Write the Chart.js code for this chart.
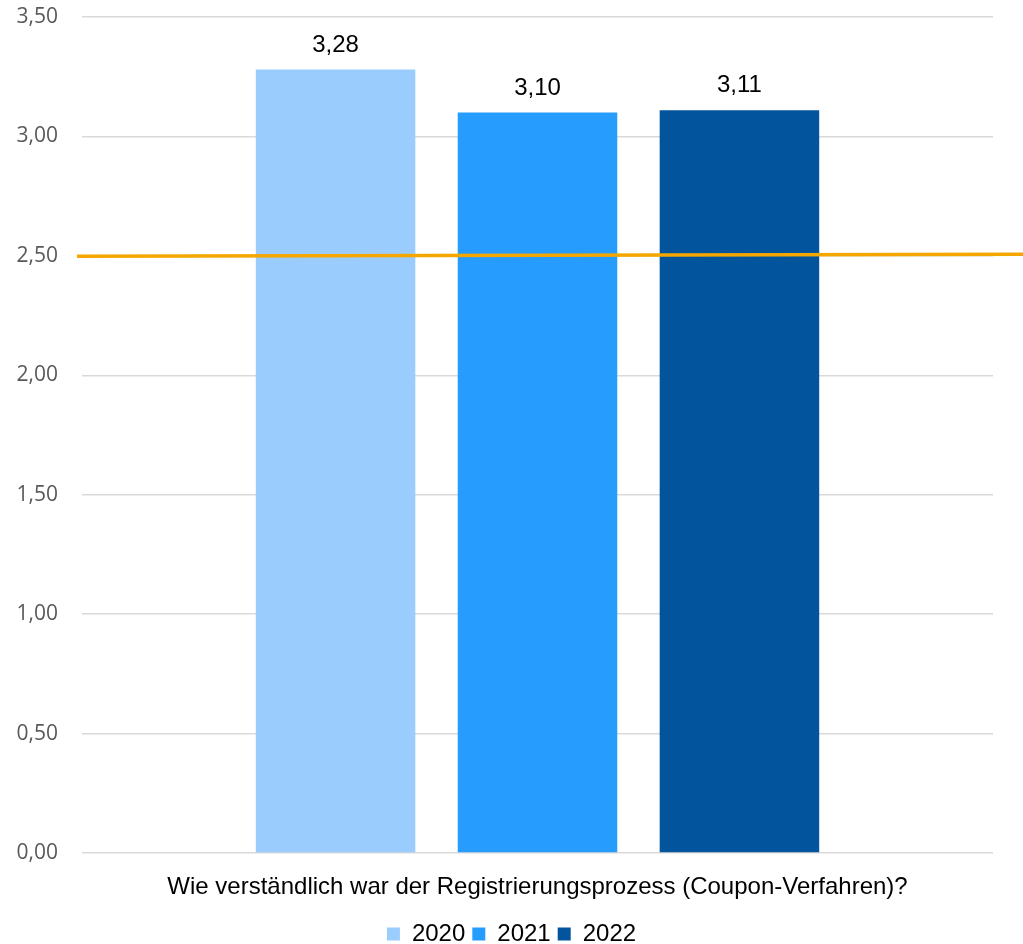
<!DOCTYPE html>
<html>
<head>
<meta charset="utf-8">
<script src="https://cdn.jsdelivr.net/npm/chart.js@4/dist/chart.umd.min.js"></script>
<style>
  html, body { margin: 0; padding: 0; background: #fff; }
  #wrap { width: 1023px; height: 944px; position: relative; }
</style>
</head>
<body>
<div id="wrap"><canvas id="chart"></canvas></div>
<script>
const categories = ['Wie verständlich war der Registrierungsprozess (Coupon-Verfahren)?'];
const years = ['2020', '2021', '2022'];
const scores = [[3.28], [3.10], [3.11]];
const yearColors = ['#9ACDFE', '#279CFF', '#02549C'];
const targetValue = 2.5;

const arial = '"Liberation Sans", Arial, sans-serif';

function fmt(v) {
  return v.toFixed(2).replace('.', ',');
}

// values above each bar
const valueLabels = {
  id: 'valueLabels',
  afterDatasetsDraw(chart) {
    const ctx = chart.ctx;
    ctx.save();
    ctx.font = '24px ' + arial;
    ctx.fillStyle = '#000';
    ctx.textAlign = 'center';
    ctx.textBaseline = 'alphabetic';
    chart.data.datasets.forEach(function(ds, i) {
      chart.getDatasetMeta(i).data.forEach(function(bar, j) {
        ctx.fillText(fmt(ds.data[j]), bar.x, bar.y - 18);
      });
    });
    ctx.restore();
  }
};

// orange reference line across the whole width
const targetLine = {
  id: 'targetLine',
  afterDatasetsDraw(chart) {
    const ctx = chart.ctx;
    const y = chart.scales.y.getPixelForValue(targetValue);
    ctx.save();
    ctx.strokeStyle = '#F5A700';
    ctx.lineWidth = 3.5;
    ctx.beginPath();
    ctx.moveTo(chart.chartArea.left - 5, y + 0.5);
    ctx.lineTo(chart.width, y - 1.5);
    ctx.stroke();
    ctx.restore();
  }
};

// push the legend row a bit lower than the layout puts it
const legendShift = {
  id: 'legendShift',
  afterLayout(chart) {
    const lg = chart.legend;
    lg.top += 12;
    lg.bottom += 12;
  }
};

function noPad(scale) {
  scale.paddingTop = 0;
  scale.paddingBottom = 0;
  scale.paddingLeft = 0;
  scale.paddingRight = 0;
}

new Chart(document.getElementById('chart'), {
  type: 'bar',
  data: {
    labels: categories,
    datasets: years.map(function(y, i) {
      return {
        label: y,
        data: scores[i],
        backgroundColor: yearColors[i],
        categoryPercentage: 0.665,
        barPercentage: 0.79
      };
    })
  },
  options: {
    responsive: true,
    maintainAspectRatio: false,
    animation: false,
    layout: { padding: { top: 17, right: 0, left: 0, bottom: 0 } },
    plugins: {
      legend: {
        position: 'bottom',
        labels: {
          color: '#000',
          font: { family: arial, size: 24 },
          boxWidth: 13,
          boxHeight: 13,
          padding: 7
        }
      },
      tooltip: { enabled: false }
    },
    scales: {
      x: {
        afterFit: function(scale) { scale.height = 50; noPad(scale); },
        grid: { display: false },
        border: { display: false },
        ticks: {
          color: '#000',
          padding: 12,
          maxRotation: 0,
          font: { family: arial, size: 24 }
        }
      },
      y: {
        min: 0,
        max: 3.5,
        afterFit: function(scale) { scale.width = 82; noPad(scale); },
        grid: { color: '#D9D9D9', lineWidth: 1.5, drawTicks: false },
        border: { display: false },
        ticks: {
          stepSize: 0.5,
          color: '#595959',
          padding: 24,
          font: { family: '"Open Sans", sans-serif', size: 21 },
          callback: function(v) { return fmt(v); }
        }
      },
      // empty right margin so the legend centres on the full width
      yRight: {
        position: 'right',
        afterFit: function(scale) { scale.width = 30; noPad(scale); },
        grid: { display: false },
        border: { display: false },
        ticks: { display: false }
      }
    }
  },
  plugins: [valueLabels, targetLine, legendShift]
});
</script>
</body>
</html>
